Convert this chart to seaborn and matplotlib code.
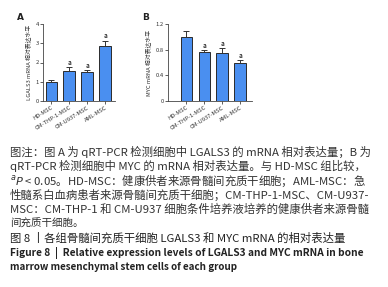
import numpy as np
import pandas as pd
import matplotlib
matplotlib.use("Agg")
import matplotlib.pyplot as plt
import seaborn as sns

groups = ["HD-MSC", "CM-THP-1-MSC", "CM-U937-MSC", "AML-MSC"]
lgals3_mean = [1.0, 1.58, 1.52, 2.88]
lgals3_err = [0.09, 0.19, 0.10, 0.26]
lgals3_sig = ["", "a", "a", "a"]
myc_mean = [0.99, 0.77, 0.75, 0.60]
myc_err = [0.10, 0.03, 0.08, 0.04]
myc_sig = ["", "a", "a", "a"]

caption_lines = [
    "图注：图 A 为 qRT-PCR 检测细胞中 LGALS3 的 mRNA 相对表达量；B 为",
    "qRT-PCR 检测细胞中 MYC 的 mRNA 相对表达量。与 HD-MSC 组比较，",
    "$^{a}\\mathit{P}$ < 0.05。HD-MSC：健康供者来源骨髓间充质干细胞；AML-MSC：急",
    "性髓系白血病患者来源骨髓间充质干细胞；CM-THP-1-MSC、CM-U937-",
    "MSC：CM-THP-1 和 CM-U937 细胞条件培养液培养的健康供者来源骨髓",
    "间充质干细胞。",
]
title_cn = "图 8 丨各组骨髓间充质干细胞 LGALS3 和 MYC mRNA 的相对表达量"
title_en = ["Figure 8  |  Relative expression levels of LGALS3 and MYC mRNA in bone",
            "marrow mesenchymal stem cells of each group"]

sns.set_theme(style="ticks")
plt.rcParams["font.family"] = ["Noto Sans CJK SC", "DejaVu Sans"]
plt.rcParams["mathtext.fontset"] = "dejavusans"

W, H = 388, 287
fig = plt.figure(figsize=(W / 100, H / 100), dpi=100)

bar_color = "#4a8ff0"


def panel(rect, means, errs, sigs, ylim, yticks, ylabel, letter, xlim):
    ax = fig.add_axes(rect)
    df = pd.DataFrame({"group": groups, "value": means})
    sns.barplot(data=df, x="group", y="value", color=bar_color, width=0.66,
                edgecolor="#2b2b2b", linewidth=0.7, saturation=1, ax=ax)
    x = np.arange(len(groups))
    ax.errorbar(x, means, yerr=[np.zeros(len(errs)), errs], fmt="none",
                ecolor="#333333", elinewidth=0.7, capsize=2.2, capthick=0.7)
    for xi, m, e, s in zip(x, means, errs, sigs):
        if s:
            ax.text(xi, m + e + (ylim[1] - ylim[0]) * 0.015, s, ha="center",
                    va="bottom", fontsize=4.5, fontweight="bold", color="#333333")
    ax.set_ylim(*ylim)
    ax.set_xlim(*xlim)
    ax.set_yticks(yticks)
    ax.set_yticklabels([f"{t:g}" for t in yticks])
    ax.set_xlabel("")
    ax.set_ylabel(ylabel, fontsize=4.2, labelpad=3, color="#333333")
    ax.tick_params(axis="both", labelsize=4.2, length=2, width=0.6,
                   colors="#444444", pad=1)
    plt.setp(ax.get_xticklabels(), rotation=32, ha="right",
             rotation_mode="anchor", color="#333333")
    plt.setp(ax.get_yticklabels(), color="#333333")
    sns.despine(ax=ax)
    for sp in ("left", "bottom"):
        ax.spines[sp].set_linewidth(0.6)
        ax.spines[sp].set_color("#444444")
    fig.text(rect[0] - 26 / W, rect[1] + rect[3] + 4 / H, letter,
             fontsize=6.5, fontweight="bold", color="#222222",
             family="DejaVu Sans")
    return ax


panel([43 / W, 1 - 101 / H, 72 / W, 77 / H], lgals3_mean, lgals3_err,
      lgals3_sig, (0, 4), [0, 1, 2, 3, 4], "LGALS3 mRNA 相对表达水平", "A",
      (-0.47, 3.55))
panel([168 / W, 1 - 101 / H, 84 / W, 77 / H], myc_mean, myc_err,
      myc_sig, (0, 1.2), [0, 0.4, 0.8, 1.2], "MYC mRNA 相对表达水平", "B",
      (-1.03, 3.65))

renderer = fig.canvas.get_renderer()


def fit_text(y, s, width_px, base, **kw):
    t = fig.text(10 / W, 1 - y / H, s, fontsize=base, va="center", ha="left", **kw)
    if width_px:
        w = t.get_window_extent(renderer).width
        t.set_fontsize(min(base * width_px / w, 8.2))
    return t


y0 = 152
step = 14.4
for i, line in enumerate(caption_lines):
    full = 365 if i < len(caption_lines) - 1 else None
    fit_text(y0 + i * step, line, full, 7.6, color="#333333")
i = len(caption_lines)
fit_text(y0 + i * step, title_cn, 335, 7.6, color="#222222", fontweight="medium")
for j, line in enumerate(title_en):
    fit_text(y0 + (i + 1 + j) * step, line, 352 if j == 0 else None, 7.1,
             color="#222222", fontweight="bold")

fig.savefig("out.png", dpi=100, facecolor="white")
